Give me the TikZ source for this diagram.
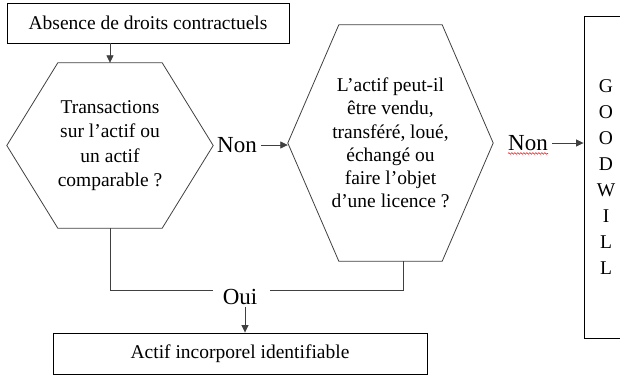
\documentclass[tikz,border=0pt]{standalone}
\usepackage{fontspec}
\setmainfont{Liberation Serif}
\usetikzlibrary{arrows.meta,decorations.pathmorphing}
\tikzstyle{box}=[rectangle,draw=black,line width=0.9pt,inner sep=0pt,font=\fontsize{19.5}{24}\selectfont]
\tikzstyle{question}=[rectangle,inner sep=0pt,align=center,font=\fontsize{19.5}{24.5}\selectfont]
\tikzstyle{answer}=[inner sep=2pt,font=\fontsize{23}{27}\selectfont]
\tikzstyle{link}=[line width=0.8pt,draw=black!75]
\newcommand{\hexframe}[2]{\draw[link] ([xshift=#2]#1.north west) -- ([xshift=-#2]#1.north east) -- (#1.east) -- ([xshift=-#2]#1.south east) -- ([xshift=#2]#1.south west) -- (#1.west) -- cycle;}

\begin{document}
\begin{tikzpicture}[x=1pt,y=-1pt,>={Triangle[length=7.5pt,width=7pt]}]
        \useasboundingbox (0,0) rectangle (620,376);
        \clip (0,0) rectangle (620,376);

        \node at (148,23) [box,minimum width=282pt,minimum height=40pt] (start) {Absence de droits contractuels};
        \node at (110,145.5) [question,minimum width=206pt,minimum height=165pt] (trans) {Transactions\\sur l’actif ou\\un actif\\comparable ?};
        \node at (390.5,143) [question,minimum width=205pt,minimum height=236pt,font=\fontsize{19.5}{23.3}\selectfont] (cession) {L’actif peut-il\\être vendu,\\transféré, loué,\\échangé ou\\faire l’objet\\d’une licence ?};
        \node at (606,177) [box,minimum width=44pt,minimum height=322pt,align=center,font=\fontsize{19.5}{26}\selectfont] (gw) {G\\O\\O\\D\\W\\I\\L\\L};
        \node at (240,353.5) [box,minimum width=374pt,minimum height=41pt] (actif) {Actif incorporel identifiable};

        \node at (237,145) [answer] (non1) {Non};
        \node at (528,143) [answer] (non2) {Non};
        \node at (240,297) [answer] (oui) {Oui};
        \coordinate (ouiL) at (213,290);
        \coordinate (ouiR) at (270,290);

        \hexframe{trans}{51pt}
        \hexframe{cession}{51pt}

        \draw [link,->] (trans.north |- start.south) -- (trans.north);
        \draw [link,->] ([xshift=2pt]non1.east) -- (non1.east -| cession.west);
        \draw [link,->] ([xshift=2pt]non2.east) -- (non2.east -| gw.west);
        \draw [link] (trans.south) |- (ouiL);
        \draw [link] (ouiR) -| ([xshift=13pt]cession.south);
        \draw [link,->] ([xshift=5pt]oui.south) -- ([xshift=5pt]oui.south |- actif.north);
        \draw [red,line width=0.5pt,decorate,decoration={snake,amplitude=0.8pt,segment length=3pt}] ([xshift=2pt,yshift=-3pt]non2.base west) -- ([xshift=-2pt,yshift=-3pt]non2.base east);
      \end{tikzpicture}
\end{document}
